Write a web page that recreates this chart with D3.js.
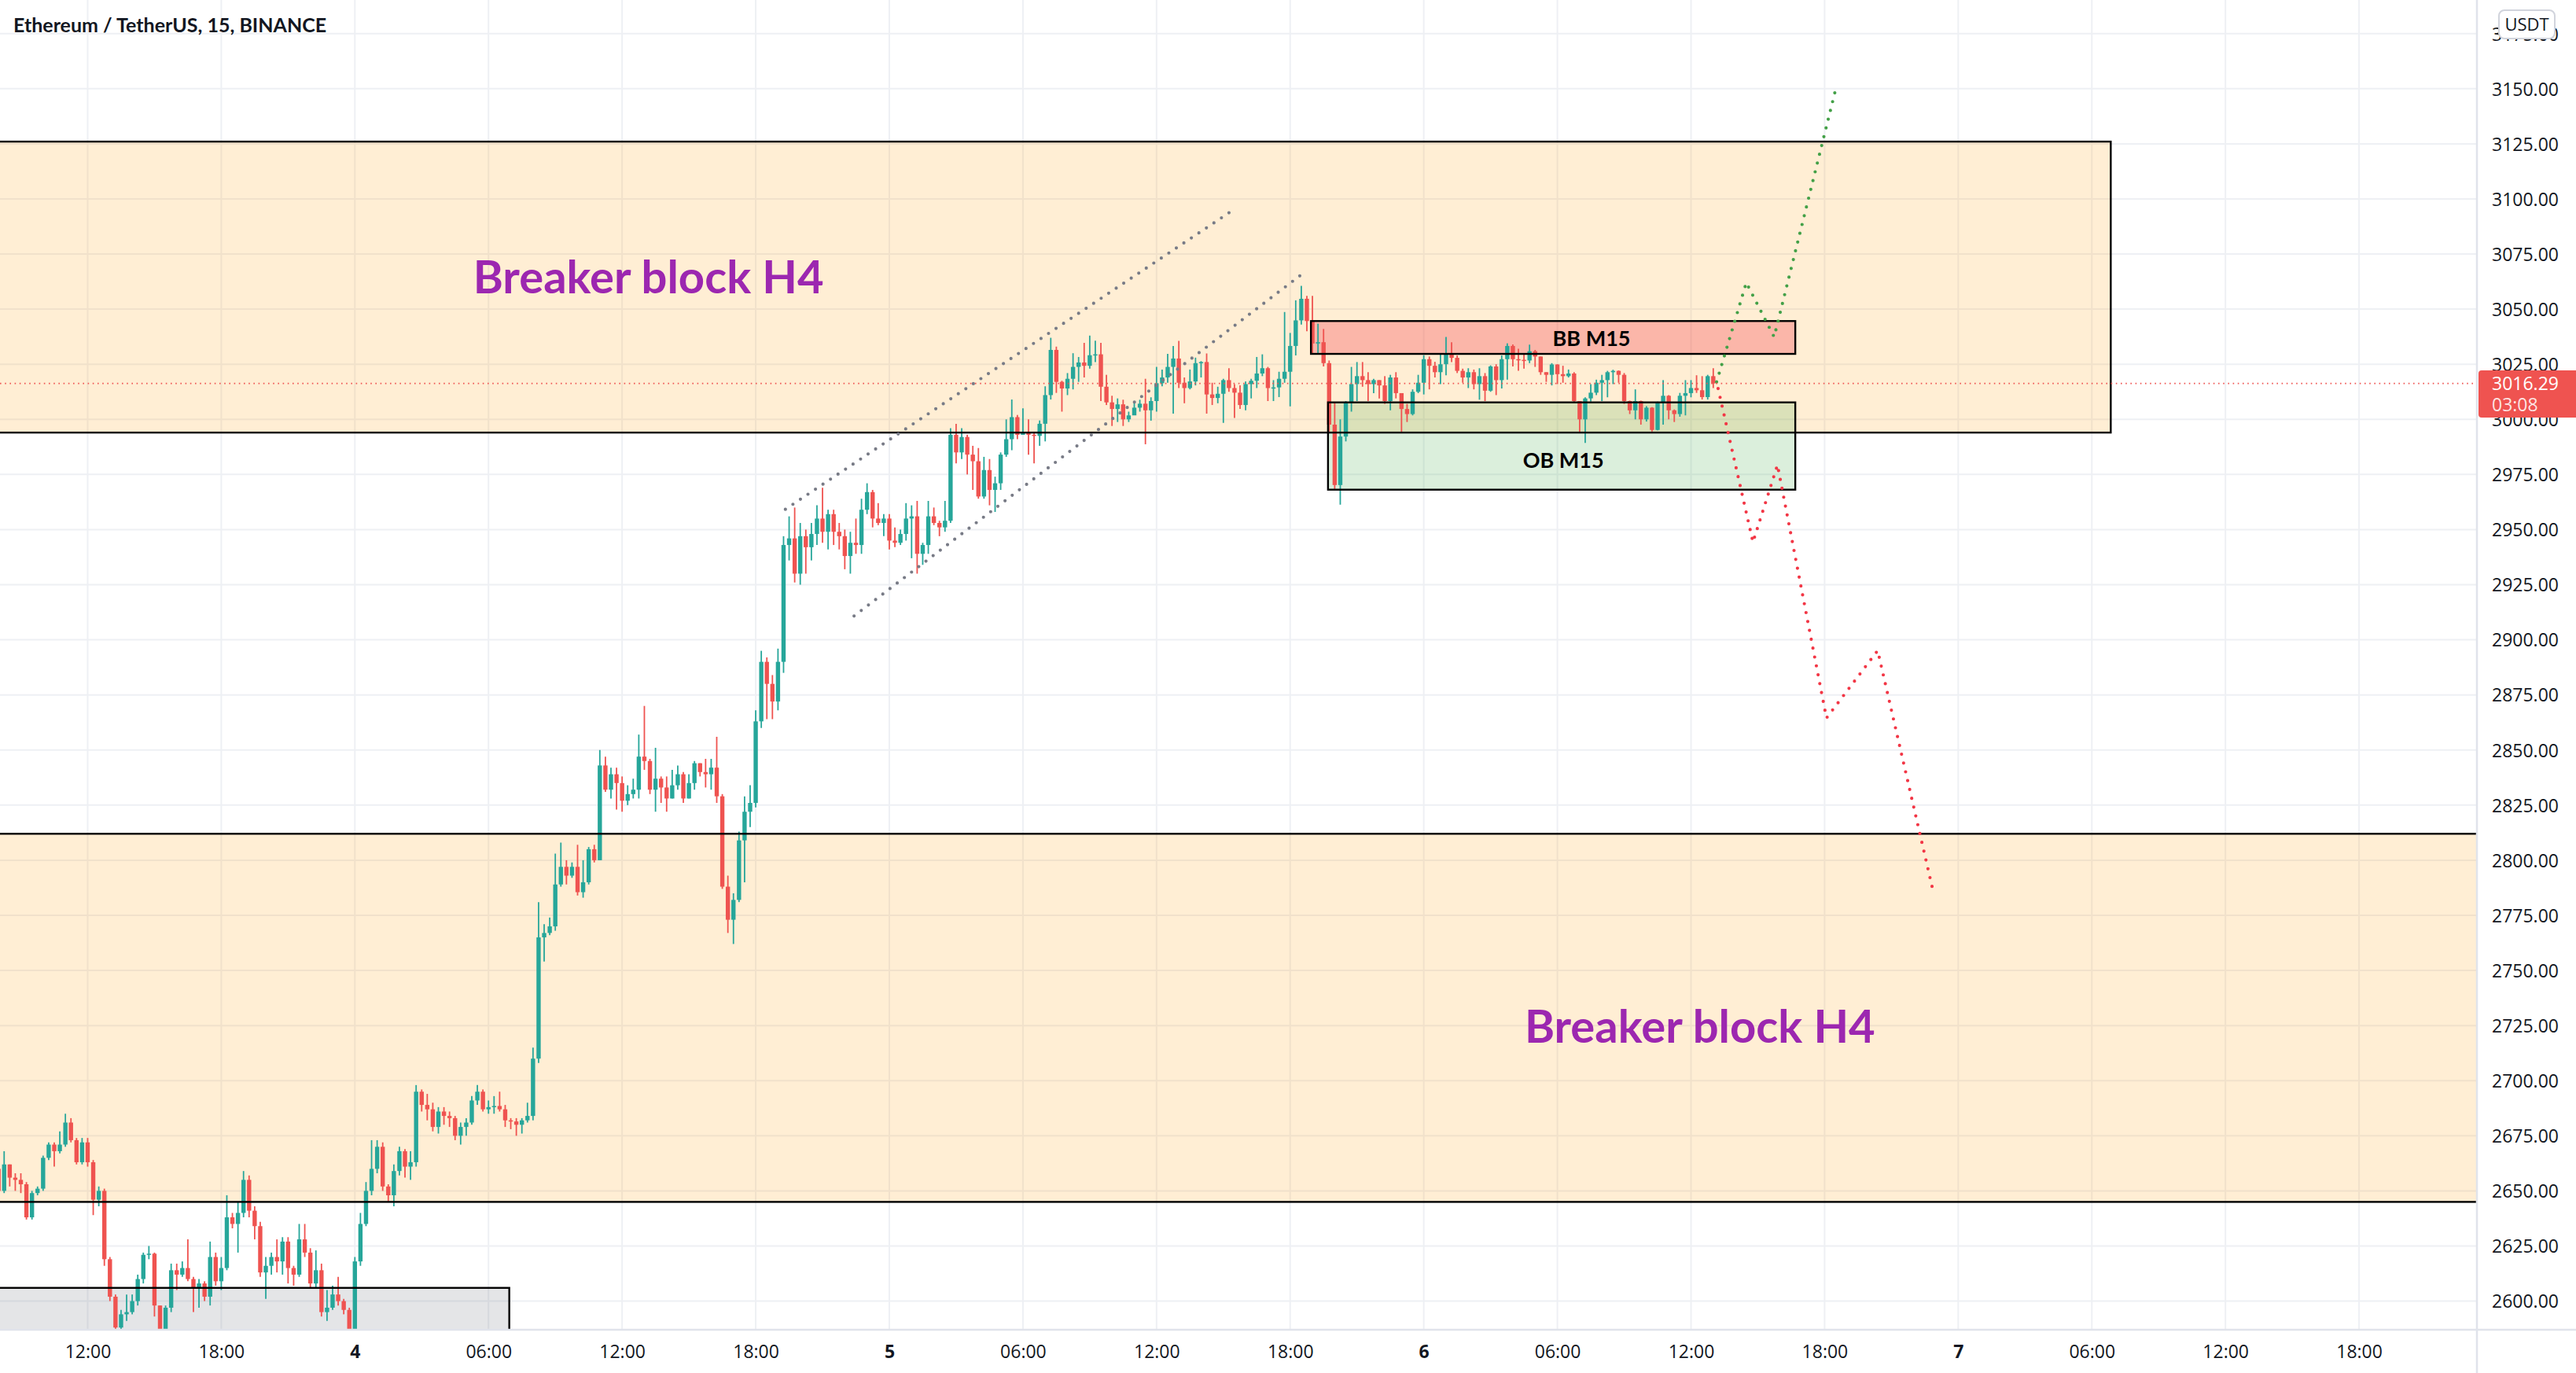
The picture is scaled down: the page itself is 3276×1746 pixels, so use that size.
<!DOCTYPE html>
<html><head><meta charset="utf-8">
<script src="https://cdn.jsdelivr.net/npm/d3@7"></script>
<style>html,body{margin:0;padding:0;background:#fff;overflow:hidden}</style>
</head><body>
<svg id="c" width="3276" height="1746" xmlns="http://www.w3.org/2000/svg"></svg>
<script>
// ---------------- DATA ----------------
const chartTitle = "Ethereum / TetherUS, 15, BINANCE";
const firstBarTime = "2022-02-03T08:00:00Z";   // 15-minute bars
const barMinutes = 15;
const firstOpen = 2660;
const closes = [
2650,2662,2656,2655,2653,2638,2649,2651,2665,2671,2668,2671,2681,2673,2663,2672,2663,2646,2650,2619,
2602,2588,2594,2595,2600,2610,2621,2621.5,2598,2585,2597,2614,2612,2615,2610,2606,2608,2602,2620,2609,
2615,2638,2635,2640,2655,2641,2634,2613,2616,2620,2618,2627,2615,2612,2628,2622,2608,2614,2595,2597,
2603,2600,2596,2585,2618,2635,2650,2660,2670,2652,2648,2659,2668,2661,2663,2695,2689,2687,2679,2686,
2684,2683,2675,2679,2681,2691,2695,2687,2688,2688.5,2687,2682,2681.5,2680,2682,2684,2710,2765,2767,2770,
2789,2797,2793,2797,2785.5,2790,2805,2800,2843,2832,2839,2835,2827,2830,2832,2847,2845,2832,2837,2833,
2828,2834,2839,2828,2835,2844,2840,2839,2842,2829,2788,2773,2782,2809,2822,2826,2863,2890,2880,2872,
2890,2943,2946,2930,2947,2942,2948,2955,2949,2957,2949,2947,2938,2944,2943,2959,2967,2955,2953,2955,
2945,2944,2948,2955,2956,2939,2943,2956,2953,2951,2954,2993,2985,2992,2984,2981,2965,2977,2968,2971,
2984,2991,3001,2993,2994,2993,2992.5,2998,3011,3031.5,3017,3014,3018.4,3023.8,3025.8,3024.3,3029.1,3029.5,3014.8,3007.7,
3004.7,3006.8,3000,3001.8,3005.3,3007.1,3004.1,3008.3,3016.4,3019,3023.8,3027.6,3016.6,3014.2,3017.2,3025.5,3026,3011.3,3009.7,3011.6,
3017.8,3014.2,3012.1,3006.5,3016,3017.5,3020.8,3023.2,3014.2,3014.5,3018.4,3021.6,3033.3,3044.9,3054.7,3044.6,3034.4,3035,3025.5,2997.6,
2970.2,2992.2,3007.7,3016,3019.6,3017.8,3016,3017.8,3015.4,3008.3,3019,3011.9,3004.7,3002.4,3012.5,3016.6,3027.3,3024.3,3021.4,3025,
3030,3027.9,3022,3019,3021.4,3016,3019.6,3013,3024,3017.8,3027.3,3033.3,3027.3,3027,3026.7,3030.9,3028.5,3021.4,3020.2,3024.9,
3020.5,3019.6,3020.8,3008.3,3000,3009.5,3012.1,3016.6,3017.8,3021.4,3022,3020.2,3008.3,3004.1,3008.3,3000,3005.3,2995.2,3007.7,3010.7,
3004.1,3002.4,3010.7,3011.9,3014.2,3013.2,3010.1,3019.6,3016.29];
const highs = [
2664,2668,2662,2658,2658,2654,2650,2652,2666,2672,2672,2677,2685,2683,2674,2674,2674,2664,2652,2651,
2620,2603,2596,2603,2603,2612,2622,2625,2622,2598,2598,2617,2617,2618,2628,2611,2610,2609,2627,2622,
2620,2648,2640,2645,2659,2657,2643,2636,2620,2622,2628,2629,2629,2616,2635,2635,2624,2623,2617,2605,
2607,2611,2601,2597,2620,2640,2654,2673,2673,2672,2653,2662,2670,2669,2668,2698,2696,2694,2690,2688,
2688,2686,2684,2681,2683,2693,2698,2696,2691,2693,2695,2689,2683,2683,2683,2690,2715,2781,2771,2774,
2803,2808,2800,2799,2807,2800,2806,2807,2850,2847,2842,2842,2838,2834,2837,2857,2870,2846,2851,2838,
2838,2841,2843,2840,2839,2845,2844,2846,2846,2856,2830,2793,2785,2813,2829,2834,2868,2895,2892,2884,
2896,2947,2956,2960,2953,2950,2953,2961,2969,2959,2959,2953,2950,2949,2955,2964,2971,2968,2962,2957,
2957,2951,2950,2962,2961,2963,2944,2963,2960,2954,2963,2996,2998,2996,2993,2988,2987,2983,2982,2974,
2985,3000,3009,3002,3005,3000,2994,2999.5,3015,3037,3033,3017.5,3021,3030,3028.3,3034.7,3038,3035.7,3034.7,3020.2,
3010.7,3009.5,3008.9,3003.5,3008.3,3008.9,3018.4,3010,3023.8,3022.6,3029.7,3033.3,3035.6,3019,3022.6,3028,3026.4,3029.9,3016.6,3014.8,
3018.4,3023.2,3016,3015.4,3017.2,3018.4,3028.3,3029.5,3023.8,3017.8,3021.6,3048.7,3039.2,3054,3060.6,3056,3056,3043.4,3041,3026.7,
3007.7,3000,3008.3,3023.8,3026,3026,3021.4,3018.4,3017.8,3019.6,3020.2,3021.4,3011,3007,3013.6,3020.2,3029.1,3028.5,3026.1,3030,
3037.4,3035,3029,3023,3023.2,3022.6,3023.2,3021,3024.5,3025,3029,3034.5,3034,3032,3030,3033.9,3031.5,3028.5,3021.4,3025.5,
3025,3024.3,3022.6,3021.4,3008.3,3010,3016,3018,3020.2,3022,3022.5,3022.2,3021,3008.5,3013.6,3008.5,3006,3005.5,3008,3017.8,
3011,3004.5,3012,3017.8,3017.8,3020,3019.6,3020.2,3023.2];
const lows = [
2648,2649,2652,2650,2649,2637,2637,2648,2650,2664,2661,2667,2670,2672,2662,2662,2661,2639,2643,2616,
2600,2583,2585,2591,2594,2598,2608,2619,2593,2578,2580,2595,2605,2611,2609,2595,2597,2600,2598,2607,
2605,2614,2633,2622,2638,2638,2628,2611,2601,2612,2613,2612,2608,2607,2611,2620,2606,2606,2593,2591,
2596,2598,2594,2580,2584,2616,2634,2648,2658,2650,2645,2643,2657,2656,2655,2661,2686,2682,2677,2676,
2680,2679,2673,2671,2675,2680,2689,2686,2685,2685,2686,2679,2678,2675,2676,2681,2682,2708,2754,2766,
2768,2788,2789,2792,2784,2783,2789,2799,2800,2831,2828,2823,2822,2825,2828,2828,2841,2830,2822,2826,
2822,2828,2832,2826,2828,2832,2838,2833,2832,2826,2787,2767,2762,2781,2790,2815,2824,2860,2864,2864,
2868,2885,2936,2926,2925,2930,2936,2943,2944,2941,2943,2941,2932,2930,2939,2939,2957,2951,2952,2947,
2941,2942,2943,2945,2937,2930,2934,2939,2952,2947,2949,2953,2980,2982,2975,2968,2964,2964,2961,2958,
2968,2983,2986,2991,2993,2984,2980,2988,2990,3009,3012,3003.5,3011,3013.6,3017,3019,3023,3026,3008.3,3006.5,
2997,2998.8,2997,2998.8,3002.3,3003.5,2988.7,2999.4,3003.5,3015,3016.6,3002.6,3014.2,3007.3,3013.6,3015.4,3019,3002.6,3006.5,3007.3,
2998.4,3012.5,3000.6,3004.7,3004.1,3009.5,3014.2,3019.6,3008.3,3008.3,3010.1,3016.6,3005.9,3029,3043,3040,3030,3029.7,3024,2994,
2967.9,2961.3,2990,3003.5,3008.3,3014.8,3008.3,3011.9,3009.5,3007,3004.1,3009.5,2994,2998.8,3001.8,3011.9,3011.3,3013.6,3019,3016,
3020,3026,3021,3016.6,3014.2,3013.6,3008.9,3008.3,3012.5,3011,3014,3018,3024,3022,3023,3025.5,3023.8,3020.2,3017,3015.4,
3016,3016.6,3019,3007.5,2994,2989.3,3008,3011,3008.3,3010,3016,3016.6,3007,3002.4,3000,2997.6,2999,2994.5,2995,2997.6,
3000,2998.8,3001.2,3001.8,3010,3012,3009,3009,3014.2];

const priceTicks = [2600,2625,2650,2675,2700,2725,2750,2775,2800,2825,2850,2875,2900,2925,2950,2975,3000,3025,3050,3075,3100,3125,3150,3175];
const timeTicks = ["2022-02-03T12:00:00Z","2022-02-03T18:00:00Z","2022-02-04T00:00:00Z","2022-02-04T06:00:00Z","2022-02-04T12:00:00Z","2022-02-04T18:00:00Z",
  "2022-02-05T00:00:00Z","2022-02-05T06:00:00Z","2022-02-05T12:00:00Z","2022-02-05T18:00:00Z","2022-02-06T00:00:00Z","2022-02-06T06:00:00Z",
  "2022-02-06T12:00:00Z","2022-02-06T18:00:00Z","2022-02-07T00:00:00Z","2022-02-07T06:00:00Z","2022-02-07T12:00:00Z","2022-02-07T18:00:00Z"];
const timeTickLabels = ["12:00","18:00","4","06:00","12:00","18:00","5","06:00","12:00","18:00","6","06:00","12:00","18:00","7","06:00","12:00","18:00"];
const dayLabels = ["4","5","6","7"];
const lastPrice = 3016.29;
const countdown = "03:08";
const currency = "USDT";

// zones: [startTime, endTime, topPrice, bottomPrice]
const breakerUpper = ["2022-02-03T00:00:00Z","2022-02-07T06:51:00Z",3126,2994];
const breakerLower = ["2022-02-03T00:00:00Z","2022-02-09T00:00:00Z",2812,2645];
const grayZone     = ["2022-02-03T00:00:00Z","2022-02-04T06:56:00Z",2606,2500];
const bbZone       = ["2022-02-05T18:56:00Z","2022-02-06T16:41:00Z",3044.6,3029.7];
const obZone       = ["2022-02-05T19:42:00Z","2022-02-06T16:41:00Z",3007.7,2968.1];
// trend lines [time, price]
const channelUpper = [["2022-02-04T19:20:00Z",2959.2],["2022-02-05T15:32:00Z",3095.6]];
const channelLower = [["2022-02-04T22:25:00Z",2910.8],["2022-02-05T18:43:00Z",3067.3]];
const bullPath = [["2022-02-06T13:09:00Z",3017],["2022-02-06T14:29:00Z",3062],["2022-02-06T15:44:00Z",3037.4],["2022-02-06T18:29:00Z",3149.2]];
const bearPath = [["2022-02-06T13:13:00Z",3014],["2022-02-06T14:47:00Z",2944.3],["2022-02-06T15:53:00Z",2979.3],["2022-02-06T18:05:00Z",2864.5],["2022-02-06T20:23:00Z",2895.1],["2022-02-06T22:53:00Z",2785.5]];
// labels [text, time, price]
const zoneLabels = [["Breaker block H4","2022-02-04T13:11:00Z",3064.7],["Breaker block H4","2022-02-06T12:24:00Z",2724.5]];
const boxLabels = [["BB M15","2022-02-06T07:32:00Z",3036.8],["OB M15","2022-02-06T06:16:00Z",2981.5]];

// ---------------- CHART ----------------
const W = 3276, H = 1746, plotW = 3150, plotH = 1691;
const svg = d3.select("#c");
const T = s => new Date(s);
const x = d3.scaleUtc().domain([T("2022-02-03T08:03:50Z"), T("2022-02-07T23:17:35Z")]).range([0, plotW]);
const y = d3.scaleLinear().domain([2587.0, 3190.24]).range([plotH, 0]);

const up = "#26a69a", down = "#ef5350";
const t0 = T(firstBarTime).getTime();
const bars = closes.map((c, i) => ({
  t: new Date(t0 + i * barMinutes * 60000),
  o: i ? closes[i - 1] : firstOpen, h: highs[i], l: lows[i], c
}));

svg.append("rect").attr("width", W).attr("height", H).attr("fill", "#fff");
const defs = svg.append("defs");
defs.append("clipPath").attr("id", "plot").append("rect").attr("width", plotW).attr("height", plotH);

const plot = svg.append("g").attr("clip-path", "url(#plot)");

// grid
const gridC = "#eef0f4";
plot.append("g").selectAll("line").data(priceTicks).join("line")
  .attr("x1", 0).attr("x2", plotW).attr("y1", d => y(d)).attr("y2", d => y(d))
  .attr("stroke", gridC).attr("stroke-width", 2);
plot.append("g").selectAll("line").data(timeTicks).join("line")
  .attr("x1", d => x(T(d))).attr("x2", d => x(T(d))).attr("y1", 0).attr("y2", plotH)
  .attr("stroke", gridC).attr("stroke-width", 2);

function zoneRect(g, z, fill, stroke) {
  return g.append("rect")
    .attr("x", x(T(z[0]))).attr("y", y(z[2]))
    .attr("width", x(T(z[1])) - x(T(z[0]))).attr("height", y(z[3]) - y(z[2]))
    .attr("fill", fill).attr("stroke", stroke).attr("stroke-width", stroke === "none" ? 0 : 2.4);
}
// fills
const fills = plot.append("g");
zoneRect(fills, breakerUpper, "rgba(255,152,0,0.17)", "none");
zoneRect(fills, breakerLower, "rgba(255,152,0,0.17)", "none");
zoneRect(fills, grayZone, "rgba(120,123,134,0.2)", "none");
zoneRect(fills, bbZone, "rgba(242,54,69,0.3)", "none");
zoneRect(fills, obZone, "rgba(76,175,80,0.2)", "none");

// candles
const cg = plot.append("g");
const bw = 5.4;
cg.selectAll("line").data(bars).join("line")
  .attr("x1", d => x(d.t)).attr("x2", d => x(d.t))
  .attr("y1", d => y(d.h)).attr("y2", d => y(d.l))
  .attr("stroke", d => d.c >= d.o ? up : down).attr("stroke-width", 1.8);
cg.selectAll("rect").data(bars).join("rect")
  .attr("x", d => x(d.t) - bw / 2).attr("width", bw)
  .attr("y", d => y(Math.max(d.o, d.c)))
  .attr("height", d => Math.max(1.5, Math.abs(y(d.o) - y(d.c))))
  .attr("fill", d => d.c >= d.o ? up : down);

// zone borders
const borders = plot.append("g");
[breakerUpper, breakerLower, grayZone, bbZone, obZone].forEach(z => zoneRect(borders, z, "none", "#000"));

// dotted lines
const line = d3.line().x(d => x(T(d[0]))).y(d => y(d[1]));
function dotted(data, color) {
  plot.append("path").datum(data).attr("d", line).attr("fill", "none")
    .attr("stroke", color).attr("stroke-width", 4.2).attr("stroke-linecap", "round")
    .attr("stroke-dasharray", "0 11.5");
}
dotted(channelUpper, "#787b86");
dotted(channelLower, "#787b86");
dotted(bullPath, "#43a047");
dotted(bearPath, "#f23645");

// last price line
plot.append("line").attr("x1", 0).attr("x2", plotW).attr("y1", y(lastPrice)).attr("y2", y(lastPrice))
  .attr("stroke", down).attr("stroke-width", 1.6).attr("stroke-dasharray", "1.6 4.6");

// annotation texts
const bigFs = 58;
plot.append("g").selectAll("text").data(zoneLabels).join("text")
  .attr("x", d => x(T(d[1]))).attr("y", d => y(d[2]) + bigFs * 0.36)
  .attr("text-anchor", "middle").attr("font-family", "Lato, 'Open Sans', sans-serif")
  .attr("font-weight", 700).attr("font-size", bigFs).attr("fill", "#9c27b0").text(d => d[0]);
const boxFs = 27;
plot.append("g").selectAll("text").data(boxLabels).join("text")
  .attr("x", d => x(T(d[1]))).attr("y", d => y(d[2]) + boxFs * 0.36)
  .attr("text-anchor", "middle").attr("font-family", "Lato, 'Open Sans', sans-serif")
  .attr("font-weight", 700).attr("font-size", boxFs).attr("fill", "#000").text(d => d[0]);

// axes frame
const axisLineC = "#e0e3eb";
svg.append("line").attr("x1", 0).attr("x2", W).attr("y1", plotH).attr("y2", plotH).attr("stroke", axisLineC).attr("stroke-width", 2.5);
svg.append("line").attr("x1", plotW).attr("x2", plotW).attr("y1", 0).attr("y2", H).attr("stroke", axisLineC).attr("stroke-width", 2.5);

// price axis
const yAxis = d3.axisRight(y).tickValues(priceTicks).tickFormat(d3.format(".2f")).tickSize(0).tickPadding(19);
const ya = svg.append("g").attr("transform", `translate(${plotW},0)`).call(yAxis);
ya.select(".domain").remove();
ya.selectAll("text").attr("font-family", "'Open Sans', sans-serif").attr("font-size", 23).attr("fill", "#131722").attr("dy", "0.36em");

// time axis
const xAxis = d3.axisBottom(x).tickValues(timeTicks.map(T)).tickFormat((d, i) => timeTickLabels[i]).tickSize(0).tickPadding(0);
const xa = svg.append("g").attr("transform", `translate(0,${plotH})`).call(xAxis);
xa.select(".domain").remove();
xa.selectAll("text").attr("font-family", "'Open Sans', sans-serif").attr("font-size", 23).attr("fill", "#131722")
  .attr("y", 28).attr("dy", "0.36em")
  .attr("font-weight", (d, i) => dayLabels.includes(timeTickLabels[i]) ? 700 : 400);

// currency box
svg.append("rect").attr("x", 3178).attr("y", 13).attr("width", 71).attr("height", 36).attr("rx", 7)
  .attr("fill", "#fff").attr("stroke", "#d1d4dc").attr("stroke-width", 2);
svg.append("text").attr("x", 3213.5).attr("y", 31).attr("dy", "0.36em").attr("text-anchor", "middle")
  .attr("font-family", "'Open Sans', sans-serif").attr("font-size", 22).attr("fill", "#131722").text(currency);

// last price label
const ly = y(lastPrice);
svg.append("rect").attr("x", 3152).attr("y", ly - 16.5).attr("width", 140).attr("height", 60).attr("rx", 4).attr("fill", down);
svg.append("text").attr("x", 3169).attr("y", ly).attr("dy", "0.36em")
  .attr("font-family", "'Open Sans', sans-serif").attr("font-size", 23).attr("fill", "#fff").text(lastPrice.toFixed(2));
svg.append("text").attr("x", 3169).attr("y", ly + 27).attr("dy", "0.36em")
  .attr("font-family", "'Open Sans', sans-serif").attr("font-size", 23).attr("fill", "#fff").attr("fill-opacity", 0.85).text(countdown);

// title
svg.append("text").attr("x", 17).attr("y", 41).attr("font-family", "Lato, 'Open Sans', sans-serif")
  .attr("font-weight", 700).attr("font-size", 25).attr("fill", "#131722").text(chartTitle);
</script>
</body></html>
